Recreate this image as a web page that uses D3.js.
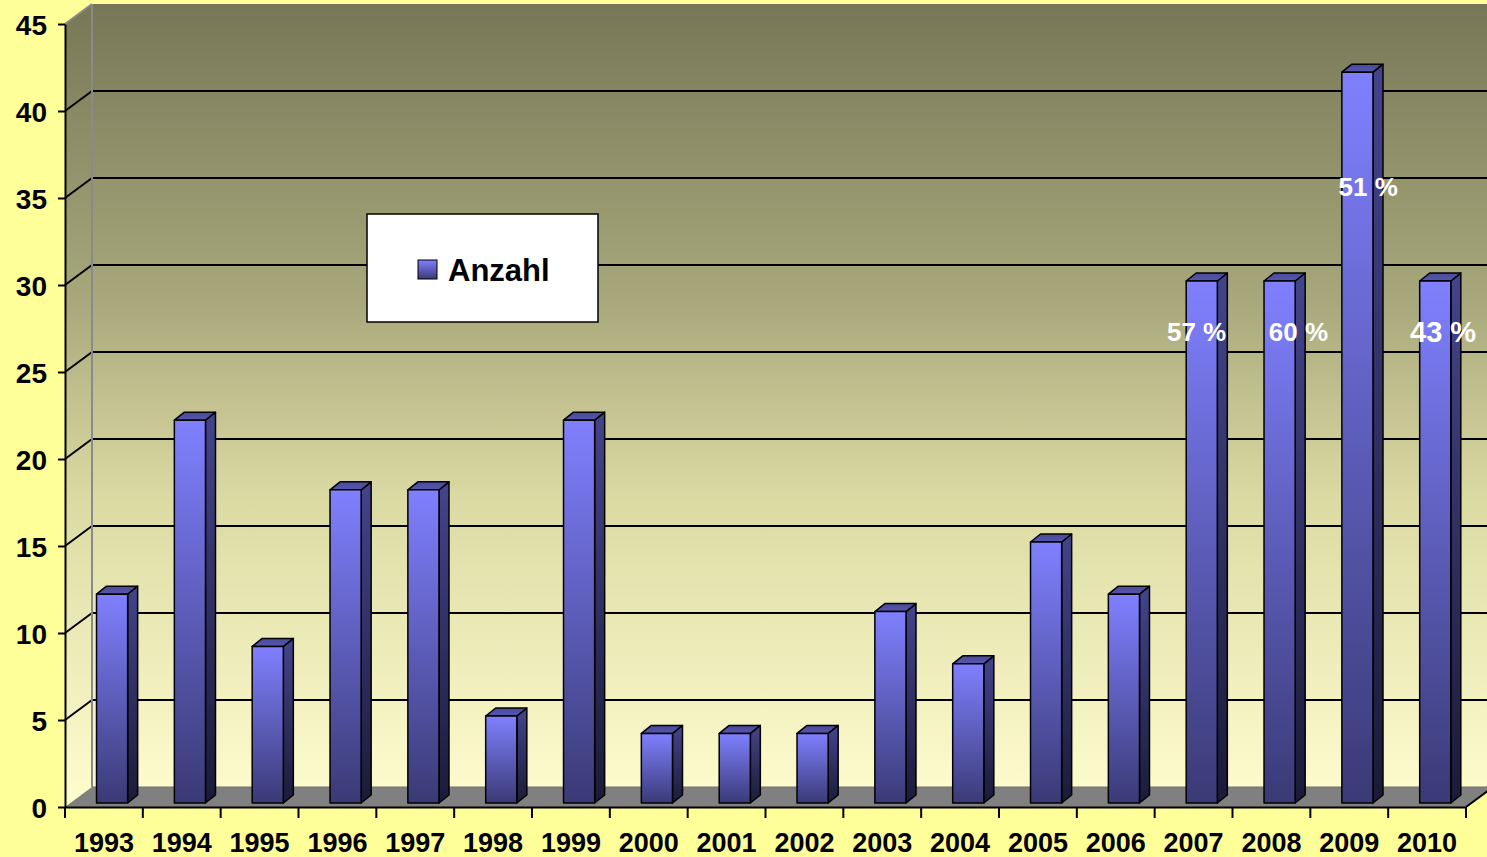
<!DOCTYPE html>
<html>
<head>
<meta charset="utf-8">
<script src="https://cdn.jsdelivr.net/npm/d3@7"></script>
<style>
  body { margin: 0; background: #ffff99; }
  svg { display: block; font-family: "Liberation Sans", Arial, sans-serif; font-weight: bold; }
</style>
</head>
<body>
<svg id="chart" width="1487" height="857"></svg>
<script>
// data
const years = ['1993', '1994', '1995', '1996', '1997', '1998', '1999', '2000', '2001',
  '2002', '2003', '2004', '2005', '2006', '2007', '2008', '2009', '2010'];
const counts = [12, 22, 9, 18, 18, 5, 22, 4, 4, 4, 11, 8, 15, 12, 30, 30, 42, 30];
const yTicks = [0, 5, 10, 15, 20, 25, 30, 35, 40, 45];
const pctYears = ['2007', '2008', '2009', '2010'];
const pctTexts = ['57 %', '60 %', '51 %', '43 %'];
const seriesName = 'Anzahl';

const svg = d3.select('#chart');
const W = 1487;

// scales
const x = d3.scaleBand().domain(years).range([65, 1466]);
const y = d3.scaleLinear().domain([0, 45]).range([807, 24]);
const bw = x.bandwidth();
const DX = 27, DY = -20;   // depth of the 3d box

const defs = svg.append('defs');
const grad = (id, stops, user) => {
  const g = defs.append('linearGradient').attr('id', id)
    .attr('x1', 0).attr('y1', 0).attr('x2', 0).attr('y2', 1);
  if (user) g.attr('gradientUnits', 'userSpaceOnUse')
    .attr('y1', user[0]).attr('y2', user[1]).attr('x1', 0).attr('x2', 0);
  stops.forEach(([o, c]) => g.append('stop').attr('offset', o).attr('stop-color', c));
};
grad('wall', [[0, '#777757'], [0.38, '#a8a87c'], [0.63, '#dcdaa3'], [1, '#fdfbcc']], [y(45) + DY, y(0) + DY]);
grad('front', [[0, '#8080ff'], [1, '#3a3a76']]);
grad('side', [[0, '#44448c'], [1, '#1b1b38']]);
grad('top', [[0, '#4a4a98'], [1, '#5656b0']]);

// walls and floor
svg.append('rect')
  .attr('x', 65 + DX).attr('y', y(45) + DY)
  .attr('width', W).attr('height', y(0) - y(45))
  .attr('fill', 'url(#wall)');
svg.append('polygon')
  .attr('points', [[65, y(45)], [65 + DX, y(45) + DY], [65 + DX, y(0) + DY], [65, y(0)]].join(' '))
  .attr('fill', 'url(#wall)');
svg.append('polygon')
  .attr('points', [[65, y(0)], [65 + DX, y(0) + DY], [1466 + DX, y(0) + DY], [1466, y(0)]].join(' '))
  .attr('fill', '#808080');

// gridlines
const grid = yTicks.filter(v => v > 0 && v < 45);
svg.selectAll('.grid-back').data(grid).join('line')
  .attr('x1', 65 + DX).attr('x2', W + 10)
  .attr('y1', d => y(d) + DY).attr('y2', d => y(d) + DY)
  .attr('stroke', '#000').attr('stroke-width', 2);
svg.selectAll('.grid-side').data(grid).join('line')
  .attr('x1', 65).attr('x2', 65 + DX)
  .attr('y1', d => y(d)).attr('y2', d => y(d) + DY)
  .attr('stroke', '#000').attr('stroke-width', 2);

// wall edges
svg.append('line').attr('x1', 65 + DX).attr('x2', 65 + DX)
  .attr('y1', y(45) + DY).attr('y2', y(0) + DY)
  .attr('stroke', '#8a8a8a').attr('stroke-width', 2);
svg.append('line').attr('x1', 65).attr('x2', 65 + DX)
  .attr('y1', y(45)).attr('y2', y(45) + DY)
  .attr('stroke', '#8a8a8a').attr('stroke-width', 2);
svg.append('line').attr('x1', 65 + DX).attr('x2', W + 10)
  .attr('y1', y(0) + DY).attr('y2', y(0) + DY)
  .attr('stroke', '#707070').attr('stroke-width', 1);
svg.append('line').attr('x1', 1466).attr('x2', 1466 + DX)
  .attr('y1', y(0)).attr('y2', y(0) + DY)
  .attr('stroke', '#000').attr('stroke-width', 2);

// bars
const data = years.map((yr, i) => ({ year: yr, value: counts[i] }));
const bdx = 10, bdy = -8, off = -4;
const bx = d => x(d.year) + bw * 0.405;
const bwid = bw * 0.4;
const bars = svg.selectAll('.bar').data(data).join('g').attr('class', 'bar')
  .attr('stroke', '#000').attr('stroke-width', 1.5).attr('stroke-linejoin', 'round');
bars.append('polygon')
  .attr('points', d => {
    const x0 = bx(d) + bwid, t = y(d.value) + off, b = y(0) + off;
    return [[x0, t], [x0 + bdx, t + bdy], [x0 + bdx, b + bdy], [x0, b]].join(' ');
  })
  .attr('fill', 'url(#side)');
bars.append('polygon')
  .attr('points', d => {
    const x0 = bx(d), t = y(d.value) + off;
    return [[x0, t], [x0 + bdx, t + bdy], [x0 + bwid + bdx, t + bdy], [x0 + bwid, t]].join(' ');
  })
  .attr('fill', 'url(#top)');
bars.append('rect')
  .attr('x', bx).attr('y', d => y(d.value) + off)
  .attr('width', bwid).attr('height', d => y(0) - y(d.value))
  .attr('fill', 'url(#front)');

// y axis
const yAxis = svg.append('g').attr('transform', 'translate(65,0)')
  .call(d3.axisLeft(y).tickValues(yTicks).tickSize(7).tickSizeOuter(0).tickPadding(11));
yAxis.select('.domain').attr('stroke', '#000').attr('stroke-width', 2);
yAxis.selectAll('.tick line').attr('stroke', '#000').attr('stroke-width', 2);
yAxis.selectAll('.tick text').attr('font-size', 28).attr('font-family', null)
  .attr('fill', '#000').attr('dy', '0.36em');

// x axis
const xAxis = svg.append('g').attr('transform', `translate(0,${y(0)})`)
  .call(d3.axisBottom(x).tickSize(0).tickPadding(26));
xAxis.select('.domain').attr('stroke', '#000').attr('stroke-width', 2);
xAxis.selectAll('.tick text').attr('font-size', 27).attr('font-family', null).attr('fill', '#000');
svg.selectAll('.xtick').data(years.concat(['end'])).join('line')
  .attr('x1', (d, i) => 65 + i * bw).attr('x2', (d, i) => 65 + i * bw)
  .attr('y1', y(0)).attr('y2', y(0) + 11)
  .attr('stroke', '#000').attr('stroke-width', 2);

// percent labels (manually placed text boxes in the original)
const nudge = [3, 27, 19, 16];
const level = [26.8, 26.8, 35.1, 26.7];
const fsize = [26, 26, 26, 29];
svg.selectAll('.pct').data(pctYears).join('text')
  .attr('x', (d, i) => x(d) + bw / 2 + nudge[i])
  .attr('y', (d, i) => y(level[i]))
  .attr('text-anchor', 'middle')
  .attr('font-size', (d, i) => fsize[i])
  .attr('fill', '#fff')
  .text((d, i) => pctTexts[i]);

// legend
const lg = svg.append('g').attr('transform', 'translate(367,214)');
lg.append('rect').attr('width', 231).attr('height', 108)
  .attr('fill', '#fff').attr('stroke', '#000').attr('stroke-width', 1.5);
lg.append('rect').attr('x', 51).attr('y', 46).attr('width', 19).attr('height', 19)
  .attr('fill', 'url(#front)').attr('stroke', '#000').attr('stroke-width', 1);
lg.append('text').attr('x', 81).attr('y', 67).attr('font-size', 31).text(seriesName);
</script>
</body>
</html>
